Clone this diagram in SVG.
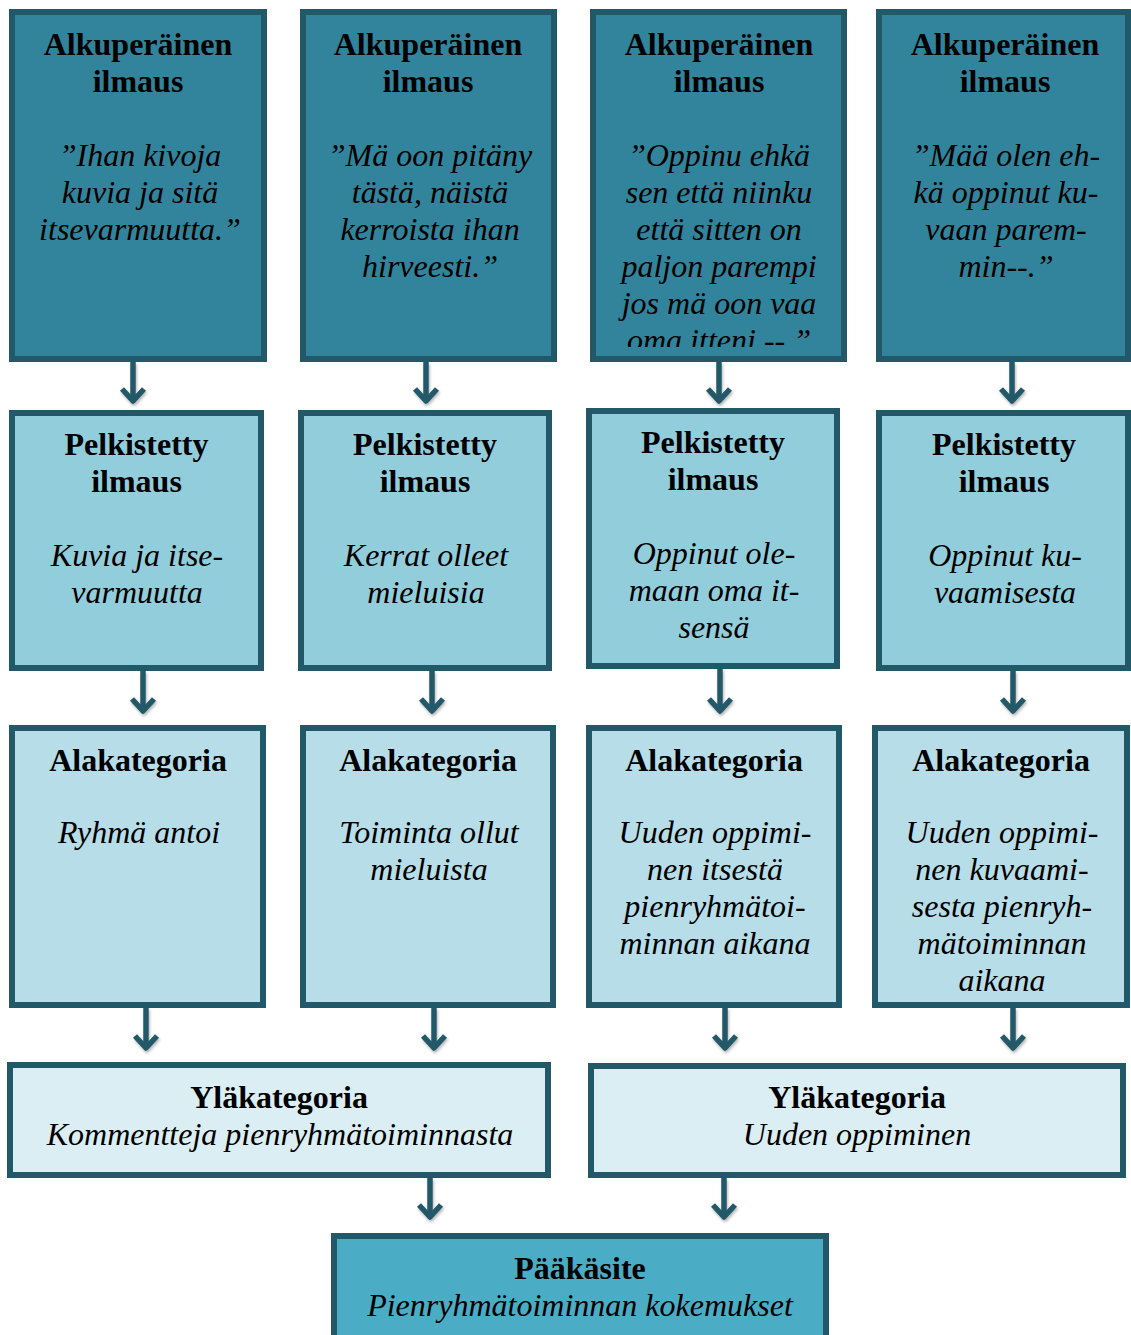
<svg xmlns="http://www.w3.org/2000/svg" width="1131" height="1335" viewBox="0 0 1131 1335">
<style>
.box{stroke:#215968;stroke-width:6}
.r1{fill:#31849b}.r2{fill:#92cddc}.r3{fill:#b7dde8}.r4{fill:#daeef3}.r5{fill:#4bacc6}
text{font-family:"Liberation Serif","Times New Roman",serif;font-size:32px;fill:#000;text-anchor:middle}
.t{font-weight:bold}
.i{font-style:italic}
.c{fill:none;stroke:#215968;stroke-width:5.5;stroke-linejoin:round}
</style>
<defs>
<marker id="ah" markerUnits="userSpaceOnUse" viewBox="-16 -15 20 30" markerWidth="20" markerHeight="30" refX="0" refY="0" orient="auto">
<path d="M-12,-11 L0,0 L-12,11" fill="none" stroke="#215968" stroke-width="5.5" stroke-linejoin="round" stroke-linecap="butt"/>
</marker>
<filter id="sh" x="-50%" y="-20%" width="200%" height="150%">
<feDropShadow dx="1" dy="2" stdDeviation="1.5" flood-color="#000" flood-opacity="0.3"/>
</filter>
<clipPath id="clip3"><rect x="596" y="15" width="245" height="332"/></clipPath>
</defs>

<g id="n-a1"><rect class="box r1" x="12" y="12" width="252" height="347"/>
<text class="t" x="138" y="55">Alkuperäinen</text><text class="t" x="138" y="92">ilmaus</text>
<text class="i" x="140" y="166">”Ihan kivoja</text><text class="i" x="140" y="203">kuvia ja sitä</text><text class="i" x="140" y="240">itsevarmuutta.”</text></g>

<g id="n-a2"><rect class="box r1" x="303" y="12" width="251" height="347"/>
<text class="t" x="428" y="55">Alkuperäinen</text><text class="t" x="428" y="92">ilmaus</text>
<text class="i" x="430" y="166">”Mä oon pitäny</text><text class="i" x="430" y="203">tästä, näistä</text><text class="i" x="430" y="240">kerroista ihan</text><text class="i" x="430" y="277">hirveesti.”</text></g>

<g id="n-a3"><rect class="box r1" x="593" y="12" width="251" height="347"/>
<text class="t" x="719" y="55">Alkuperäinen</text><text class="t" x="719" y="92">ilmaus</text>
<g clip-path="url(#clip3)">
<text class="i" x="719" y="166">”Oppinu ehkä</text><text class="i" x="719" y="203">sen että niinku</text><text class="i" x="719" y="240">että sitten on</text><text class="i" x="719" y="277">paljon parempi</text><text class="i" x="719" y="314">jos mä oon vaa</text><text class="i" x="719" y="351">oma itteni --.”</text>
</g></g>

<g id="n-a4"><rect class="box r1" x="879" y="12" width="249" height="347"/>
<text class="t" x="1005" y="55">Alkuperäinen</text><text class="t" x="1005" y="92">ilmaus</text>
<text class="i" x="1006" y="166">”Mää olen eh-</text><text class="i" x="1006" y="203">kä oppinut ku-</text><text class="i" x="1006" y="240">vaan parem-</text><text class="i" x="1006" y="277">min--.”</text></g>

<g id="n-p1"><rect class="box r2" x="12" y="413" width="249" height="255"/>
<text class="t" x="136.5" y="455">Pelkistetty</text><text class="t" x="136.5" y="492">ilmaus</text>
<text class="i" x="137" y="566">Kuvia ja itse-</text><text class="i" x="137" y="603">varmuutta</text></g>

<g id="n-p2"><rect class="box r2" x="301" y="413" width="248" height="255"/>
<text class="t" x="425" y="455">Pelkistetty</text><text class="t" x="425" y="492">ilmaus</text>
<text class="i" x="426" y="566">Kerrat olleet</text><text class="i" x="426" y="603">mieluisia</text></g>

<g id="n-p3"><rect class="box r2" x="589" y="411" width="248" height="255"/>
<text class="t" x="713" y="453">Pelkistetty</text><text class="t" x="713" y="490">ilmaus</text>
<text class="i" x="714" y="564">Oppinut ole-</text><text class="i" x="714" y="601">maan oma it-</text><text class="i" x="714" y="638">sensä</text></g>

<g id="n-p4"><rect class="box r2" x="879" y="413" width="249" height="255"/>
<text class="t" x="1004" y="455">Pelkistetty</text><text class="t" x="1004" y="492">ilmaus</text>
<text class="i" x="1005" y="566">Oppinut ku-</text><text class="i" x="1005" y="603">vaamisesta</text></g>

<g id="n-s1"><rect class="box r3" x="12" y="728" width="251" height="277"/>
<text class="t" x="138" y="771">Alakategoria</text>
<text class="i" x="139" y="843">Ryhmä antoi</text></g>

<g id="n-s2"><rect class="box r3" x="303" y="728" width="250" height="277"/>
<text class="t" x="428" y="771">Alakategoria</text>
<text class="i" x="429" y="843">Toiminta ollut</text><text class="i" x="429" y="880">mieluista</text></g>

<g id="n-s3"><rect class="box r3" x="589" y="728" width="250" height="277"/>
<text class="t" x="714" y="771">Alakategoria</text>
<text class="i" x="715" y="843">Uuden oppimi-</text><text class="i" x="715" y="880">nen itsestä</text><text class="i" x="715" y="917">pienryhmätoi-</text><text class="i" x="715" y="954">minnan aikana</text></g>

<g id="n-s4"><rect class="box r3" x="875" y="728" width="252" height="277"/>
<text class="t" x="1001" y="771">Alakategoria</text>
<text class="i" x="1002" y="843">Uuden oppimi-</text><text class="i" x="1002" y="880">nen kuvaami-</text><text class="i" x="1002" y="917">sesta pienryh-</text><text class="i" x="1002" y="954">mätoiminnan</text><text class="i" x="1002" y="991">aikana</text></g>

<g id="n-y1"><rect class="box r4" x="10" y="1065" width="538" height="110"/>
<text class="t" x="279" y="1108">Yläkategoria</text>
<text class="i" x="280" y="1145">Kommentteja pienryhmätoiminnasta</text></g>

<g id="n-y2"><rect class="box r4" x="591" y="1066" width="532" height="109"/>
<text class="t" x="857" y="1108">Yläkategoria</text>
<text class="i" x="857" y="1145">Uuden oppiminen</text></g>

<g id="n-main"><rect class="box r5" x="334" y="1236" width="492" height="110"/>
<text class="t" x="580" y="1279">Pääkäsite</text>
<text class="i" x="580" y="1316">Pienryhmätoiminnan kokemukset</text></g>

<g id="connectors" filter="url(#sh)">
<path class="c" marker-end="url(#ah)" d="M133,362 V401"/>
<path class="c" marker-end="url(#ah)" d="M426,362 V401"/>
<path class="c" marker-end="url(#ah)" d="M719,362 V401"/>
<path class="c" marker-end="url(#ah)" d="M1012,362 V401"/>
<path class="c" marker-end="url(#ah)" d="M143,671 V711"/>
<path class="c" marker-end="url(#ah)" d="M432,671 V711"/>
<path class="c" marker-end="url(#ah)" d="M720,669 V711"/>
<path class="c" marker-end="url(#ah)" d="M1013,671 V711"/>
<path class="c" marker-end="url(#ah)" d="M146,1008 V1048"/>
<path class="c" marker-end="url(#ah)" d="M434,1008 V1048"/>
<path class="c" marker-end="url(#ah)" d="M725,1008 V1048"/>
<path class="c" marker-end="url(#ah)" d="M1013,1008 V1048"/>
<path class="c" marker-end="url(#ah)" d="M430,1178 V1217"/>
<path class="c" marker-end="url(#ah)" d="M724,1178 V1217"/>
</g>
</svg>
